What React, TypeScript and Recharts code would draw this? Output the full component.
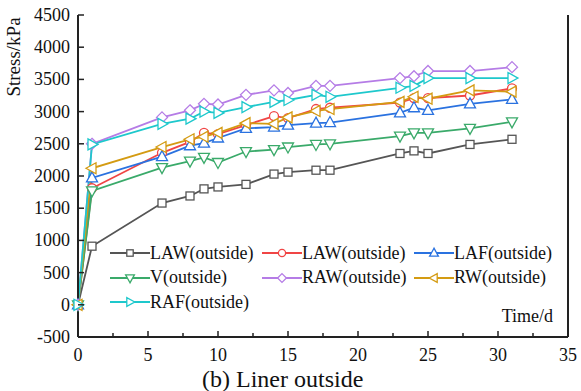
import React from "react";
import { LineChart, Line, XAxis, YAxis } from "recharts";

// time in days, stress in kPa
const time = [0, 1, 6, 8, 9, 10, 12, 14, 15, 17, 18, 23, 24, 25, 28, 31];
const lawA = [0, 910, 1580, 1690, 1800, 1830, 1870, 2030, 2060, 2090, 2090, 2350, 2390, 2350, 2490, 2570];
const lawB = [0, 1810, 2360, 2530, 2670, 2650, 2790, 2930, 2900, 3040, 3060, 3140, 3210, 3210, 3250, 3360];
const laf = [0, 1970, 2300, 2470, 2510, 2590, 2740, 2760, 2790, 2820, 2830, 2980, 3060, 3020, 3120, 3190];
const vert = [0, 1770, 2130, 2230, 2290, 2210, 2380, 2410, 2450, 2490, 2500, 2620, 2670, 2670, 2740, 2840];
const raw = [0, 2500, 2910, 3020, 3120, 3110, 3260, 3330, 3290, 3400, 3400, 3520, 3550, 3630, 3630, 3690];
const rw = [0, 2120, 2450, 2570, 2610, 2670, 2820, 2810, 2910, 3010, 3040, 3150, 3230, 3200, 3330, 3310];
const raf = [0, 2490, 2810, 2890, 3000, 2980, 3070, 3150, 3180, 3260, 3230, 3370, 3400, 3520, 3520, 3520];

const xTicks = [0, 2.5, 5, 7.5, 10, 12.5, 15, 17.5, 20, 22.5, 25, 27.5, 30, 32.5, 35];
const yTicks = [-500, 0, 500, 1000, 1500, 2000, 2500, 3000, 3500, 4000, 4500];

const FONT = "'Liberation Serif', serif";
const AXIS = "#222";

const series = [
  { key: "lawA", name: "LAW(outside)", color: "#555555", shape: "square", vals: lawA },
  { key: "lawB", name: "LAW(outside)", color: "#f04545", shape: "circle", vals: lawB },
  { key: "laf", name: "LAF(outside)", color: "#2a72e0", shape: "up", vals: laf },
  { key: "v", name: "V(outside)", color: "#3aaa6a", shape: "down", vals: vert },
  { key: "raw", name: "RAW(outside)", color: "#b57ce6", shape: "diamond", vals: raw },
  { key: "rw", name: "RW(outside)", color: "#d49b12", shape: "left", vals: rw },
  { key: "raf", name: "RAF(outside)", color: "#1ec8cc", shape: "right", vals: raf },
];

const data = time.map((t, i) => {
  const row: Record<string, number> = { t };
  series.forEach((s) => (row[s.key] = s.vals[i]));
  return row;
});

function Marker({ shape, cx, cy, color, s = 1 }: any) {
  const p = { fill: "#fff", stroke: color, strokeWidth: 1.3 };
  const pts = (a: number[][]) => a.map(([x, y]) => `${cx + x * s},${cy + y * s}`).join(" ");
  switch (shape) {
    case "square":
      return <rect x={cx - 4 * s} y={cy - 4 * s} width={8 * s} height={8 * s} {...p} />;
    case "circle":
      return <circle cx={cx} cy={cy} r={4.5 * s} {...p} />;
    case "up":
      return <polygon points={pts([[0, -6], [-5.5, 4], [5.5, 4]])} {...p} />;
    case "down":
      return <polygon points={pts([[0, 6], [-5.5, -4], [5.5, -4]])} {...p} />;
    case "left":
      return <polygon points={pts([[-6, 0], [4, -5.5], [4, 5.5]])} {...p} />;
    case "right":
      return <polygon points={pts([[6, 0], [-4, -5.5], [-4, 5.5]])} {...p} />;
    default:
      return <polygon points={pts([[0, -5.5], [5.5, 0], [0, 5.5], [-5.5, 0]])} {...p} />;
  }
}

const XTick = ({ x, y, payload }: any) => {
  const major = payload.value % 5 === 0;
  return (
    <g>
      <line x1={x} x2={x} y1={y} y2={y - (major ? 6 : 4)} stroke={AXIS} strokeWidth={1.5} />
      {major && (
        <text x={x} y={y + 24} textAnchor="middle" fontSize={18} fontFamily={FONT} fill="#111">
          {payload.value}
        </text>
      )}
    </g>
  );
};

const YTick = ({ x, y, payload }: any) => (
  <g>
    <line x1={x} x2={x + 6} y1={y} y2={y} stroke={AXIS} strokeWidth={1.5} />
    <text x={x - 8} y={y + 6} textAnchor="end" fontSize={18} fontFamily={FONT} fill="#111">
      {payload.value}
    </text>
  </g>
);

const RTick = ({ x, y }: any) => <line x1={x} x2={x - 5} y1={y} y2={y} stroke={AXIS} strokeWidth={1.5} />;

function LegendBox() {
  return (
    <div
      style={{
        position: "absolute",
        left: 110,
        top: 241,
        display: "grid",
        gridTemplateColumns: "152px 152px 152px",
        gridAutoRows: "24.5px",
        fontFamily: FONT,
        fontSize: 18,
        color: "#111",
      }}
    >
      {series.map((s) => (
        <div key={s.key} style={{ display: "flex", alignItems: "center", whiteSpace: "nowrap" }}>
          <svg width={40} height={20}>
            <line x1={0} x2={40} y1={10} y2={10} stroke={s.color} strokeWidth={1.8} />
            <Marker shape={s.shape} cx={20} cy={10} color={s.color} s={0.8} />
          </svg>
          <span>{s.name}</span>
        </div>
      ))}
    </div>
  );
}

export default function App() {
  return (
    <div style={{ position: "absolute", left: 0, top: 0, width: 581, height: 391, background: "#fff" }}>
      <LineChart width={581} height={391} data={data} margin={{ top: 15, right: 12, bottom: 24, left: 0 }}>
        <XAxis
          dataKey="t"
          type="number"
          domain={[0, 35]}
          ticks={xTicks}
          tick={<XTick />}
          tickSize={0}
          tickMargin={0}
          height={30}
          interval={0}
          stroke={AXIS}
          strokeWidth={2}
          label={(p: any) => (
            <text
              x={p.viewBox.x + p.viewBox.width - 15}
              y={p.viewBox.y - 15}
              textAnchor="end"
              fontSize={18}
              fontFamily={FONT}
              fill="#111"
            >
              Time/d
            </text>
          )}
        />
        <XAxis xAxisId="top" orientation="top" type="number" domain={[0, 35]} height={0} tick={false} stroke={AXIS} strokeWidth={2} />
        <YAxis
          type="number"
          domain={[-500, 4500]}
          ticks={yTicks}
          tick={<YTick />}
          tickSize={0}
          tickMargin={0}
          width={78}
          interval={0}
          stroke={AXIS}
          strokeWidth={2}
          label={(p: any) => (
            <text
              x={20}
              y={p.viewBox.y + 42}
              transform={`rotate(-90 20 ${p.viewBox.y + 42})`}
              textAnchor="middle"
              fontSize={19}
              fontFamily={FONT}
              fill="#111"
            >
              Stress/kPa
            </text>
          )}
        />
        <YAxis
          yAxisId="r"
          orientation="right"
          type="number"
          domain={[-500, 4500]}
          ticks={yTicks}
          tick={<RTick />}
          tickSize={0}
          tickMargin={0}
          width={1}
          interval={0}
          stroke={AXIS}
          strokeWidth={2}
        />
        {series.map((s) => (
          <Line
            key={s.key}
            dataKey={s.key}
            name={s.name}
            type="linear"
            stroke={s.color}
            strokeWidth={1.8}
            isAnimationActive={false}
            dot={(p: any) => <Marker key={`${s.key}-${p.index}`} shape={s.shape} cx={p.cx} cy={p.cy} color={s.color} />}
          />
        ))}
      </LineChart>
      <LegendBox />
      <div
        style={{
          position: "absolute",
          left: 202,
          top: 366,
          whiteSpace: "nowrap",
          fontFamily: FONT,
          fontSize: 24,
          lineHeight: "26px",
          color: "#111",
        }}
      >
        (b) Liner outside
      </div>
    </div>
  );
}
